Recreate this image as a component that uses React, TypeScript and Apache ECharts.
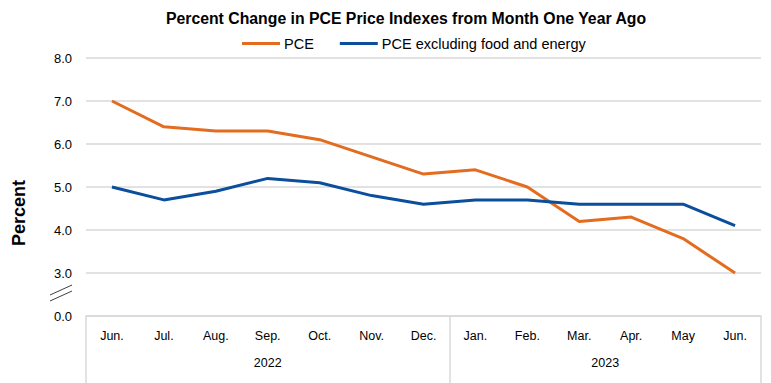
import React, { useEffect, useRef } from "react";
import * as echarts from "echarts";

const months = ["Jun.", "Jul.", "Aug.", "Sep.", "Oct.", "Nov.", "Dec.", "Jan.", "Feb.", "Mar.", "Apr.", "May", "Jun."];
const pce = [7.0, 6.4, 6.3, 6.3, 6.1, 5.7, 5.3, 5.4, 5.0, 4.2, 4.3, 3.8, 3.0];
const pceCore = [5.0, 4.7, 4.9, 5.2, 5.1, 4.8, 4.6, 4.7, 4.7, 4.6, 4.6, 4.6, 4.1];
const yearSlots = ["", "", "", "", "", "", "", "2022", "", "", "", "", "", "", "", "", "", "", "", "", "2023", "", "", "", "", "", ""];
const yearBoundaries = [0, 14, 26];
const seriesNames = ["PCE", "PCE excluding food and energy"];
const title = "Percent Change in PCE Price Indexes from Month One Year Ago";

const FONT = "'Liberation Sans', Arial, sans-serif";

export default function App() {
  const ref = useRef<HTMLDivElement>(null);
  useEffect(() => {
    if (!ref.current) return;
    const chart = echarts.init(ref.current, undefined, { renderer: "svg" });
    chart.setOption({
      animation: false,
      title: {
        text: title,
        left: 406,
        top: 10,
        textAlign: "center",
        padding: 0,
        textStyle: { fontFamily: FONT, fontSize: 15.8, fontWeight: "bold", color: "#000" },
      },
      legend: {
        left: 242,
        top: 36,
        padding: 0,
        itemGap: 26,
        itemWidth: 38,
        itemHeight: 3,
        icon: "rect",
        textStyle: { fontFamily: FONT, fontSize: 14.5, color: "#000", padding: [0, 0, 0, -1] },
        data: seriesNames,
      },
      grid: { left: 86, right: 10, top: 58, bottom: 67, containLabel: false },
      xAxis: [
        {
          type: "category",
          data: months,
          boundaryGap: true,
          position: "bottom",
          axisLine: { show: true, lineStyle: { color: "#d9d9d9", width: 1.5 } },
          axisTick: { show: false },
          axisLabel: { interval: 0, margin: 13, fontFamily: FONT, fontSize: 12.5, color: "#000" },
          splitLine: { show: false },
        },
        {
          type: "category",
          data: yearSlots,
          boundaryGap: false,
          position: "bottom",
          axisLine: { show: false },
          axisTick: {
            show: true,
            length: 70,
            interval: (i: number) => yearBoundaries.indexOf(i) >= 0,
            lineStyle: { color: "#d9d9d9", width: 1.5 },
          },
          axisLabel: { interval: 0, margin: 40, fontFamily: FONT, fontSize: 12.5, color: "#000" },
          splitLine: { show: false },
        },
      ],
      yAxis: {
        type: "value",
        min: 2,
        max: 8,
        interval: 1,
        name: "Percent",
        nameLocation: "middle",
        nameGap: 58,
        nameTextStyle: { fontFamily: FONT, fontSize: 18, fontWeight: "bold", color: "#000", padding: [0, 52, 0, 0] },
        axisLine: { show: false },
        axisTick: { show: false },
        axisLabel: {
          margin: 14,
          fontFamily: FONT,
          fontSize: 13,
          color: "#000",
          formatter: (v: number) => (v === 2 ? "0.0" : v.toFixed(1)),
        },
        splitLine: { show: true, lineStyle: { color: "#d9d9d9", width: 1.5 } },
      },
      graphic: [
        { type: "line", shape: { x1: 50, y1: 295, x2: 72, y2: 285 }, style: { stroke: "#404040", lineWidth: 1 } },
        { type: "line", shape: { x1: 50, y1: 301, x2: 72, y2: 291 }, style: { stroke: "#404040", lineWidth: 1 } },
      ],
      series: [
        {
          name: seriesNames[0],
          type: "line",
          data: pce,
          symbol: "none",
          lineStyle: { color: "#E36C1F", width: 3 },
          itemStyle: { color: "#E36C1F" },
        },
        {
          name: seriesNames[1],
          type: "line",
          data: pceCore,
          symbol: "none",
          lineStyle: { color: "#0B4F9C", width: 3 },
          itemStyle: { color: "#0B4F9C" },
        },
      ],
    });
    return () => chart.dispose();
  }, []);
  return <div ref={ref} style={{ width: 771, height: 383, position: "absolute", left: 0, top: 0 }} />;
}
